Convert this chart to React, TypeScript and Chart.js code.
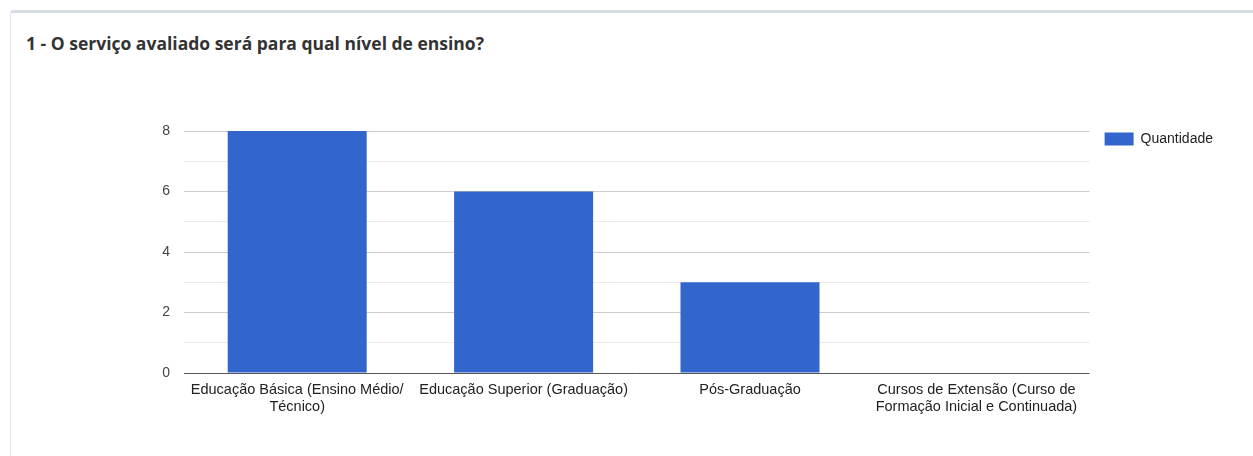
import React, { useEffect, useRef } from 'react';
import { Chart, registerables } from 'chart.js';

Chart.register(...registerables);

const title = '1 - O serviço avaliado será para qual nível de ensino?';
const categories: (string | string[])[] = [
  ['Educação Básica (Ensino Médio/', 'Técnico)'],
  'Educação Superior (Graduação)',
  'Pós-Graduação',
  ['Cursos de Extensão (Curso de', 'Formação Inicial e Continuada)'],
];
const seriesName = 'Quantidade';
const values = [8, 6, 3, 0];
const yTickLabels = [0, 2, 4, 6, 8];

const FONT = "Arial, 'Liberation Sans', sans-serif";

const legendNudge = {
  id: 'legendNudge',
  afterLayout(chart: any) {
    const l = chart.legend;
    if (l) {
      l.top -= 14;
      l.bottom -= 14;
    }
  },
};

export default function App() {
  const ref = useRef<HTMLCanvasElement>(null);

  useEffect(() => {
    if (!ref.current) return;
    const chart = new Chart(ref.current, {
      type: 'bar',
      data: {
        labels: categories,
        datasets: [
          {
            label: seriesName,
            data: values,
            backgroundColor: '#3366cc',
            borderWidth: 0,
            barPercentage: 0.614,
            categoryPercentage: 1,
          },
        ],
      },
      plugins: [legendNudge],
      options: {
        responsive: false,
        animation: false,
        devicePixelRatio: 1,
        layout: { padding: { top: 71, left: 124, right: 30, bottom: 23 } },
        plugins: {
          title: { display: false },
          tooltip: { enabled: false },
          legend: {
            position: 'right',
            align: 'start',
            labels: {
              boxWidth: 29,
              boxHeight: 13,
              padding: 15,
              color: '#222222',
              font: { family: FONT, size: 14 },
            },
          },
        },
        scales: {
          x: {
            grid: { display: false, drawTicks: false },
            border: { display: false },
            ticks: {
              color: '#222222',
              padding: 8,
              maxRotation: 0,
              autoSkip: false,
              font: { family: FONT, size: 14.5, lineHeight: '17px' },
            },
            afterFit: (scale: any) => {
              scale.height = 60;
            },
          },
          y: {
            min: 0,
            max: 8,
            border: { display: false },
            grid: {
              drawTicks: false,
              lineWidth: 1,
              color: (ctx: any) => {
                const v = ctx.tick ? ctx.tick.value : 1;
                if (v === 0) return '#555555';
                return v % 2 === 0 ? '#cccccc' : '#ebebeb';
              },
            },
            ticks: {
              stepSize: 1,
              padding: 14,
              color: '#444444',
              font: { family: FONT, size: 14 },
              callback: (v: any) => (yTickLabels.includes(Number(v)) ? String(v) : ''),
            },
            afterFit: (scale: any) => {
              scale.width = 50;
            },
          },
        },
      },
    });
    return () => chart.destroy();
  }, []);

  return (
    <div
      style={{
        position: 'fixed',
        left: 0,
        top: 0,
        width: 1253,
        height: 456,
        overflow: 'hidden',
        background: '#ffffff',
      }}
    >
      <div
        style={{
          position: 'absolute',
          left: 10,
          top: 10,
          width: 1260,
          height: 470,
          boxSizing: 'border-box',
          borderTop: '3px solid #d5dde4',
          borderLeft: '1px solid #e4e8ec',
          borderRadius: 4,
          background: '#ffffff',
        }}
      />
      <div
        style={{
          position: 'absolute',
          left: 26,
          top: 32,
          lineHeight: '22px',
          fontFamily: "'Open Sans', sans-serif",
          fontWeight: 700,
          fontSize: 17.5,
          color: '#333333',
          whiteSpace: 'nowrap',
        }}
      >
        {title}
      </div>
      <canvas
        ref={ref}
        width={1243}
        height={396}
        style={{ position: 'absolute', left: 10, top: 60, width: 1243, height: 396 }}
      />
    </div>
  );
}
